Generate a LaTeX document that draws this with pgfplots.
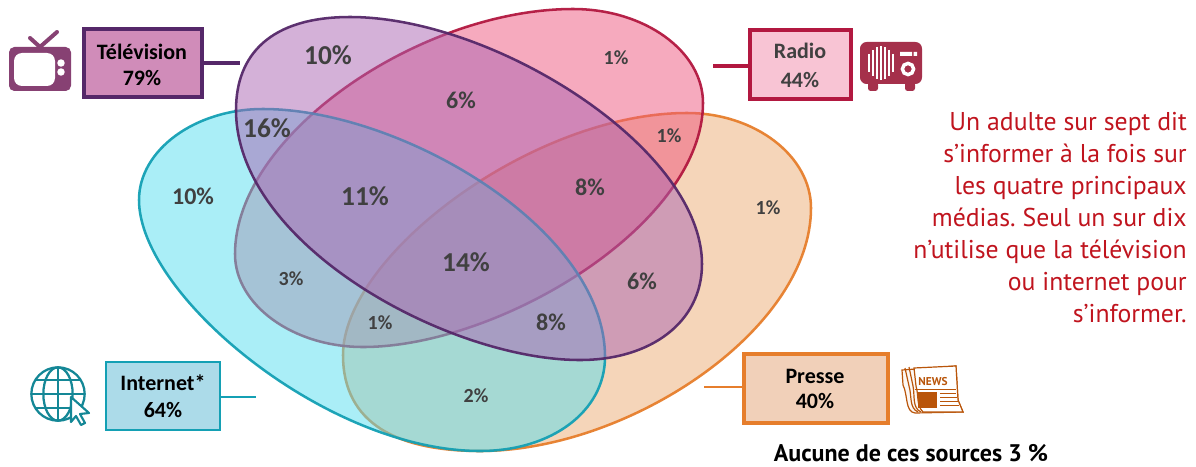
\documentclass[border=0pt]{standalone}
\usepackage{fontspec}
\usepackage{pgfplots}
\usepackage{pgfplotstable}
\pgfplotsset{compat=1.18}
\setmainfont{PT Sans}
\newfontfamily\numfont{Carlito}

\definecolor{tvfill}{RGB}{170,99,178}
\definecolor{tvline}{RGB}{85,40,105}
\definecolor{tvbox}{RGB}{208,140,185}
\definecolor{tvicon}{RGB}{135,65,115}
\definecolor{rafill}{RGB}{237,85,125}
\definecolor{raline}{RGB}{178,24,64}
\definecolor{rabox}{RGB}{248,196,212}
\definecolor{raicon}{RGB}{165,48,75}
\definecolor{infill}{RGB}{85,221,239}
\definecolor{inline}{RGB}{20,160,180}
\definecolor{inbox}{RGB}{172,219,233}
\definecolor{inicon}{RGB}{20,135,150}
\definecolor{prfill}{RGB}{235,171,115}
\definecolor{prline}{RGB}{230,126,44}
\definecolor{prbox}{RGB}{241,208,185}
\definecolor{pricon}{RGB}{185,85,10}
\definecolor{numcol}{RGB}{64,64,64}
\definecolor{msgcol}{RGB}{192,20,30}

% share of adults per region of the diagram
\pgfplotstableread{
x y lab
328 55 10\%
267 128 16\%
365 196 11\%
466 262 14\%
}\bignums
\pgfplotstableread{
x y lab
461 100 6\%
193 196 10\%
590 187 8\%
642 281 6\%
551 322 8\%
}\midnums
\pgfplotstableread{
x y lab
616 58 1\%
669 136 1\%
768 208 1\%
291 279 3\%
380 323 1\%
476 396 2\%
}\smallnums

\pgfplotsset{
  numbers/.style={draw=none,mark=none,nodes near coords,point meta=explicit symbolic,
    every node near coord/.append style={anchor=center,text=numcol,inner sep=0pt,
      fill opacity=1,text opacity=1,font=\numfont\bfseries\fontsize{#1}{#1}\selectfont}},
}
\tikzset{venn/.style 2 args={fill=#1,fill opacity=.5,draw=#2,draw opacity=.95,line width=1.9pt}}

\begin{document}
\frenchspacing
\begin{tikzpicture}
\begin{axis}[
  at={(0,0)},anchor=north west,
  scale only axis,width=897pt,height=350.25pt,
  xmin=0,xmax=1196,ymin=0,ymax=467,y dir=reverse,
  hide axis,clip=false,
]
% Presse
\draw[venn={prfill}{prline}] (343,355)
  .. controls (343,256) and (532,113) .. (687,113)
  .. controls (755,113) and (811,156) .. (811,208)
  .. controls (811,329.5) and (629,451) .. (480,451)
  .. controls (398,451) and (343,424) .. (343,355) -- cycle;
% Radio
\draw[venn={rafill}{raline}] (235,254)
  .. controls (235,134) and (421,9) .. (573,9)
  .. controls (644.5,9) and (703,51) .. (703,103)
  .. controls (703,225) and (499,347) .. (363,347)
  .. controls (293,347) and (235,305) .. (235,254) -- cycle;
% Internet
\draw[venn={infill}{inline}] (139,200)
  .. controls (139,150) and (195,109) .. (263,109)
  .. controls (400,109) and (605,228) .. (605,357)
  .. controls (605,411) and (552,451) .. (480,451)
  .. controls (326.5,451) and (139,295) .. (139,200) -- cycle;
% Television
\draw[venn={tvfill}{tvline}] (236,110)
  .. controls (236,55) and (270,17) .. (350,17)
  .. controls (494,17) and (702,148) .. (702,264)
  .. controls (702,322) and (651,360) .. (580,360)
  .. controls (449,360) and (236,245) .. (236,110) -- cycle;

\addplot[numbers=20.5] table[x=x,y=y,meta=lab] {\bignums};
\addplot[numbers=18] table[x=x,y=y,meta=lab] {\midnums};
\addplot[numbers=15] table[x=x,y=y,meta=lab] {\smallnums};
\end{axis}

\begin{scope}[x=0.75pt,y=-0.75pt]
  % legend boxes with their leader lines
  \draw[tvline,line width=2.3pt] (202,63) -- (240,63);
  \draw[tvline,line width=2.3pt,fill=tvbox] (84,29) rectangle (202,97);
  \draw[raline,line width=2.3pt] (713,66) -- (750,66);
  \draw[raline,line width=2.3pt,fill=rabox] (750,30) rectangle (851,99);
  \draw[inline,line width=2pt] (220,397) -- (256,397);
  \draw[inline,line width=2pt,fill=inbox] (106,362) rectangle (220,430);
  \draw[prline,line width=2pt] (704,387) -- (744,387);
  \draw[prline,line width=2.3pt,fill=prbox] (744,354) rectangle (888,423);
  \begin{scope}[every node/.style={font=\numfont\bfseries\fontsize{16.5}{18}\selectfont,inner sep=0pt}]
    \node at (142,52) {Télévision};
    \node at (142,78) {79\%};
    \node[text=numcol] at (800,51) {Radio};
    \node[text=numcol] at (800,80) {44\%};
    \node at (163,383) {Internet*};
    \node at (163,410) {64\%};
    \node at (815,376) {Presse};
    \node at (815,401) {40\%};
  \end{scope}
  \node[font=\bfseries\fontsize{18}{20}\selectfont,inner sep=0pt] at (911,453) {Aucune de ces sources 3 \%};
  % side comment
  \node[anchor=north east,align=right,text=msgcol,inner sep=0pt,
        font=\fontsize{19.3}{24}\selectfont] at (1187,112) {%
    Un adulte sur sept dit\\s’informer à la fois sur\\les quatre principaux\\médias. Seul un sur dix\\n’utilise que la télévision\\ou internet pour\\s’informer.};

  % television icon
  \draw[tvicon,line width=3pt,line cap=round] (40,47) -- (30,38) (40,47) -- (57,32);
  \fill[tvicon,rounded corners=4pt] (9,47) rectangle (71,91);
  \fill[white,rounded corners=6pt] (14,53) rectangle (55,86);
  \fill[white] (61,63) circle[radius=2.8pt] (61,72) circle[radius=2.8pt];
  % radio icon
  \fill[raicon,rounded corners=5pt] (860,42) rectangle (922,84);
  \fill[raicon,rounded corners=2pt] (868,82) rectangle (878,91) (905,82) rectangle (915,91);
  \foreach \bx/\bh in {869/9,873/13,877/16,881/17,885/16,889/13,893/9}
    \draw[white,line width=1.3pt] (\bx,63-\bh) -- (\bx,63+\bh);
  \fill[white] (900,52) rectangle (912,56) (913.5,52) rectangle (917,56);
  \draw[white,line width=2.6pt] (908,69) circle[radius=4.2pt];
  % globe and pointer icon
  \begin{scope}[inicon,line width=1.7pt]
    \draw (58,394) circle[radius=20pt];
    \draw (58,394) ellipse[x radius=11pt,y radius=20pt];
    \draw (58,367) -- (58,421);
    \draw (31,394) -- (85,394) (36,380) -- (80,380) (36,408) -- (80,408);
    \draw[fill=white,line width=1.6pt,line join=round] (71,397) -- (71,422) -- (76,416) -- (81,425) -- (85,423) -- (80,414) -- (89,413) -- cycle;
  \end{scope}
  % newspaper icon
  \begin{scope}[pricon]
    \draw[line width=.9pt,fill=white!85!prbox] (902,370) -- (956,366) -- (958,400) -- (963,412) -- (915,413) .. controls (905,412) and (908,395) .. (903,385) -- cycle;
    \draw[line width=.9pt] (905,368) -- (909,386) .. controls (912,396) and (909,408) .. (918,412);
    \draw[line width=.9pt] (909,367) -- (913,386) .. controls (915,396) and (912,408) .. (921,412);
    \draw[line width=.9pt,fill=white] (914,368) -- (956,366) -- (958,400) -- (963,412) -- (923,412) .. controls (916,405) and (919,396) .. (916,386) -- cycle;
    \node[font=\bfseries\fontsize{8.5}{9}\selectfont,inner sep=0pt] at (933,382) {NEWS};
    \fill (918,392) rectangle (937,408);
    \draw[line width=.6pt] (915,389) -- (956,389) (940,393) -- (956,393) (940,397) -- (957,397) (940,401) -- (958,401) (940,405) -- (959,405);
  \end{scope}

  \pgfresetboundingbox
  \path[use as bounding box] (0,0) rectangle (1196,467);
\end{scope}
\end{tikzpicture}
\end{document}
